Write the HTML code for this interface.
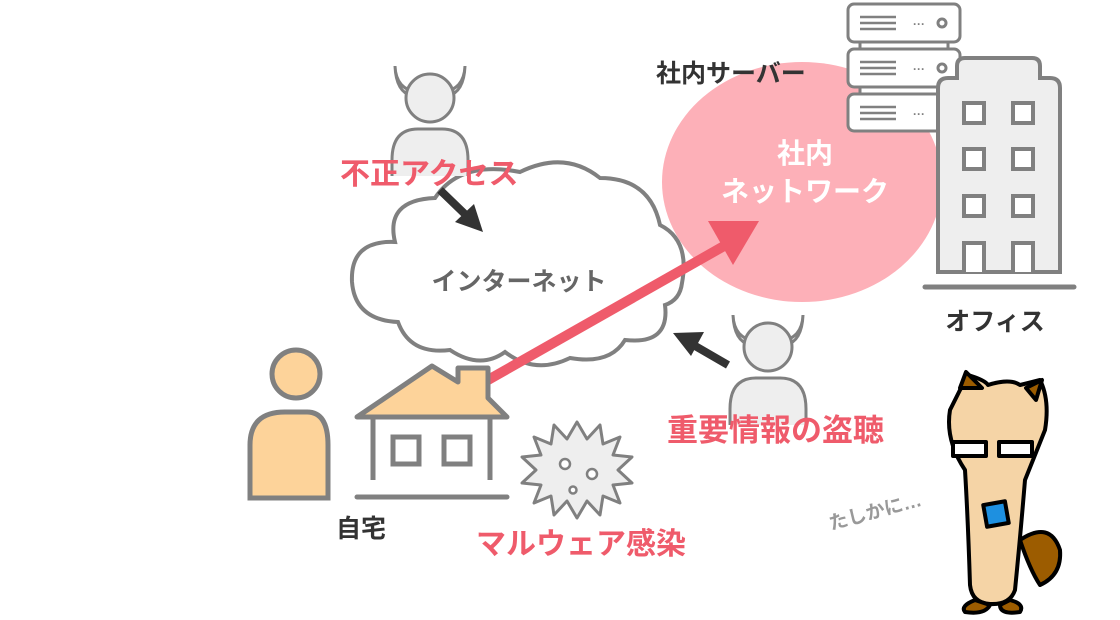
<!DOCTYPE html>
<html><head><meta charset="utf-8"><style>
html,body{margin:0;padding:0;background:#fff;width:1120px;height:620px;overflow:hidden}
text{font-family:"Liberation Sans","Noto Sans CJK JP",sans-serif;font-weight:bold}
</style></head><body>
<svg width="1120" height="620" viewBox="0 0 1120 620" xmlns="http://www.w3.org/2000/svg">
<defs>
<g id="devil">
 <path d="M-35,-32 Q-34,-8 -12,-6 L-18,-2 Q-34,-6 -35,-32 Z" fill="#eee" stroke="#808080" stroke-width="3"/>
 <path d="M35,-32 Q34,-8 12,-6 L18,-2 Q34,-6 35,-32 Z" fill="#eee" stroke="#808080" stroke-width="3"/>
 <circle cx="0" cy="0" r="24" fill="#eee" stroke="#808080" stroke-width="3"/>
 <path d="M-38,78 L-38,62 Q-38,31 -12,31 L12,31 Q38,31 38,62 L38,78" fill="#eee" stroke="#808080" stroke-width="3"/>
</g>
</defs>
<!-- pink network -->
<ellipse cx="802" cy="182" rx="140" ry="120" fill="#fdb0b8"/>
<text x="805" y="163" font-size="28" fill="#fff" text-anchor="middle">社内</text>
<text x="805" y="201" font-size="28" fill="#fff" text-anchor="middle">ネットワーク</text>
<text x="656" y="82" font-size="25" fill="#333">社内サーバー</text>
<!-- servers -->
<g fill="#fff" stroke="#808080" stroke-width="3">
<rect x="860" y="40" width="88" height="10"/><rect x="860" y="85" width="88" height="10"/>
<rect x="848" y="4" width="112" height="38" rx="6"/>
<rect x="848" y="49" width="112" height="38" rx="6"/>
<rect x="848" y="94" width="112" height="37" rx="6"/>
</g>
<g stroke="#808080" stroke-width="2.5">
<line x1="860" y1="17" x2="896" y2="17"/><line x1="860" y1="23" x2="896" y2="23"/><line x1="860" y1="29" x2="896" y2="29"/>
<line x1="860" y1="62" x2="896" y2="62"/><line x1="860" y1="68" x2="896" y2="68"/><line x1="860" y1="74" x2="896" y2="74"/>
<line x1="860" y1="107" x2="896" y2="107"/><line x1="860" y1="113" x2="896" y2="113"/><line x1="860" y1="119" x2="896" y2="119"/>
</g>
<g fill="#808080"><text x="913" y="28" font-size="12">···</text><text x="913" y="73" font-size="12">···</text><text x="913" y="118" font-size="12">···</text></g>
<circle cx="942" cy="23" r="4" fill="none" stroke="#808080" stroke-width="3"/>
<circle cx="942" cy="68" r="4" fill="none" stroke="#808080" stroke-width="3"/>
<!-- building -->
<path d="M938,272 L938,88 Q938,78 948,78 L957,78 L957,66 Q957,58 965,58 L1032,58 Q1040,58 1040,66 L1040,78 L1050,78 Q1060,78 1060,88 L1060,272 Z" fill="#eee" stroke="#808080" stroke-width="4"/>
<g fill="#fff" stroke="#808080" stroke-width="4">
<rect x="964" y="103" width="20" height="20"/><rect x="1013" y="103" width="20" height="20"/>
<rect x="964" y="149" width="20" height="20"/><rect x="1013" y="149" width="20" height="20"/>
<rect x="964" y="196" width="20" height="20"/><rect x="1013" y="196" width="20" height="20"/>
<path d="M964,272 L964,243 L984,243 L984,272"/><path d="M1013,272 L1013,243 L1033,243 L1033,272"/>
</g>
<line x1="925" y1="287" x2="1074" y2="287" stroke="#808080" stroke-width="5" stroke-linecap="round"/>
<text x="995" y="330" font-size="25" fill="#333" text-anchor="middle">オフィス</text>
<!-- cloud -->
<path d="M395,242 Q385,200 435,198 Q460,160 520,172 Q565,150 600,178 Q650,178 660,225 Q690,240 682,283 Q680,300 665,305 Q670,345 625,340 Q610,365 570,358 Q535,375 505,352 Q480,370 450,350 Q410,355 398,322 Q355,320 352,282 Q350,240 395,242 Z" fill="#fff" stroke="#808080" stroke-width="4"/>
<text x="519" y="290" font-size="25" fill="#666" text-anchor="middle">インターネット</text>
<!-- red arrow -->
<line x1="488" y1="380" x2="724" y2="246" stroke="#ef5b6b" stroke-width="10"/>
<polygon points="708,221 759,221 733,265" fill="#ef5b6b"/>
<!-- devils -->
<use href="#devil" x="430" y="98"/>
<use href="#devil" x="768" y="347"/>
<text x="340" y="184" font-size="30" fill="#ef5b6b">不正アクセス</text>
<text x="667" y="441" font-size="31" fill="#ef5b6b">重要情報の盗聴</text>
<!-- black arrows -->
<line x1="440" y1="190" x2="470" y2="219" stroke="#333" stroke-width="8"/>
<polygon points="483,232 455,222 474,204" fill="#333"/>
<line x1="728" y1="365" x2="690" y2="343" stroke="#333" stroke-width="8"/>
<polygon points="673,333 704,332 691,356" fill="#333"/>
<!-- person -->
<circle cx="296" cy="374" r="24" fill="#fdd39a" stroke="#808080" stroke-width="5"/>
<path d="M250,498 L250,445 Q250,412 285,412 L307,412 Q328,412 328,445 L328,498 Z" fill="#fdd39a" stroke="#808080" stroke-width="5"/>
<!-- house -->
<path d="M373,480 L373,418 M490,418 L490,480" stroke="#808080" stroke-width="5" fill="none"/>
<path d="M357,417 L432,366 L458,382 L458,368 L488,368 L488,398 L507,417 Z" fill="#fdd39a" stroke="#808080" stroke-width="5" stroke-linejoin="round"/>
<rect x="393" y="437" width="26" height="27" fill="#fff" stroke="#808080" stroke-width="5"/>
<rect x="444" y="437" width="26" height="27" fill="#fff" stroke="#808080" stroke-width="5"/>
<line x1="357" y1="497" x2="507" y2="497" stroke="#808080" stroke-width="5" stroke-linecap="round"/>
<text x="336" y="537" font-size="25" fill="#333">自宅</text>
<!-- virus -->
<polygon fill="#eee" stroke="#808080" stroke-width="3" stroke-linejoin="round" points="
577,422 587,439 600,425 603,444 620,437 613,455 632,457 618,470 632,483 613,485 620,503 603,496 600,515 587,501 577,518 567,501 554,515 551,496 534,503 541,485 522,483 536,470 522,457 541,455 534,437 551,444 554,425 567,439"/>
<circle cx="565" cy="464" r="5" fill="#fff" stroke="#808080" stroke-width="2.5"/>
<circle cx="592" cy="474" r="5" fill="#fff" stroke="#808080" stroke-width="2.5"/>
<circle cx="573" cy="490" r="3.5" fill="#fff" stroke="#808080" stroke-width="2.5"/>
<text x="476" y="554" font-size="30" fill="#ef5b6b">マルウェア感染</text>
<!-- squirrel -->
<text x="831" y="530" font-size="19" fill="#999" transform="rotate(-15 831 530)">たしかに…</text>
<g stroke="#000" stroke-width="4" stroke-linejoin="round">
<path d="M1020,540 Q1050,520 1060,550 Q1062,575 1040,585 Q1030,570 1020,540 Z" fill="#9c5c00"/>
<path d="M960,390 L968,375 Q985,380 988,385 Q1010,378 1020,385 L1040,380 Q1050,400 1045,430 L1025,480 Q1020,540 1015,590 Q1010,605 990,604 Q972,603 970,585 Q968,520 965,470 Q945,440 950,410 Z" fill="#f5d4a6"/>
<path d="M960,388 L966,372 L982,388 Z M1042,380 L1036,400 L1026,388 Z" fill="#9c5c00"/>
<path d="M975,600 Q960,606 965,612 Q985,615 990,605 Z M1000,605 Q1000,615 1020,612 Q1025,604 1010,600 Z" fill="#9c5c00"/>
<rect x="953" y="442" width="33" height="14" fill="#fff"/>
<rect x="999" y="442" width="33" height="14" fill="#fff"/>
<rect x="985" y="503" width="22" height="22" fill="#1e90e0" transform="rotate(-10 996 514)"/>
</g>
</svg>
</body></html>
